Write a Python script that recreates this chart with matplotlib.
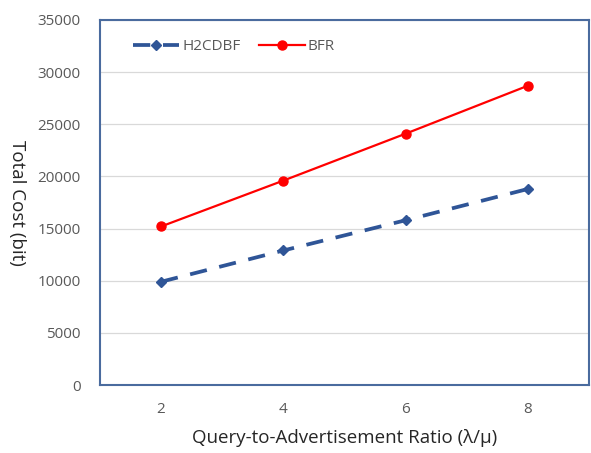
import matplotlib
matplotlib.use("Agg")
import matplotlib.pyplot as plt

# values
ratios = ["2", "4", "6", "8"]
h2cdbf_cost = [9900, 12900, 15800, 18800]
bfr_cost = [15200, 19600, 24100, 28700]
y_ticks = [0, 5000, 10000, 15000, 20000, 25000, 30000, 35000]

plt.rcParams["font.family"] = ["Open Sans", "DejaVu Sans"]

fig = plt.figure(figsize=(5.91, 4.53), dpi=100)
ax = fig.add_axes([0.169, 0.150, 0.828, 0.806])

x = list(range(len(ratios)))
ax.plot(x, h2cdbf_cost, color="#2F5597", linestyle=(0, (4.6, 3.4)), linewidth=2.7,
        marker="D", markersize=5.5, label="H2CDBF")
ax.plot(x, bfr_cost, color="#FF0000", linestyle="-", linewidth=1.6,
        marker="o", markersize=6.5, label="BFR")

ax.set_xlim(-0.5, len(ratios) - 0.5)
ax.set_ylim(0, 35000)
ax.set_yticks(y_ticks)
ax.set_xticks(x)
ax.set_xticklabels(ratios)

ax.grid(axis="y", color="#D9D9D9", linewidth=0.9)
ax.set_axisbelow(True)
for s in ax.spines.values():
    s.set_color("#4A6B9E")
    s.set_linewidth(1.5)

ax.tick_params(length=0, colors="#595959", labelsize=11, pad=12)
ax.tick_params(axis="y", pad=14)

ax.set_xlabel("Query-to-Advertisement Ratio (\u03bb/\u03bc)", fontsize=13.5,
              color="#262626", labelpad=9)
ax.set_ylabel("Total Cost (bit)", fontsize=13.5, color="#262626",
              rotation=270, labelpad=20)
ax.yaxis.set_label_coords(-0.188, 0.5)

leg = ax.legend(loc="upper left", bbox_to_anchor=(0.04, 0.985), ncol=2,
                frameon=False, fontsize=11, handlelength=3.0,
                columnspacing=1.2, handletextpad=0.2)
for t in leg.get_texts():
    t.set_color("#595959")

fig.savefig("out.png", dpi=100)
